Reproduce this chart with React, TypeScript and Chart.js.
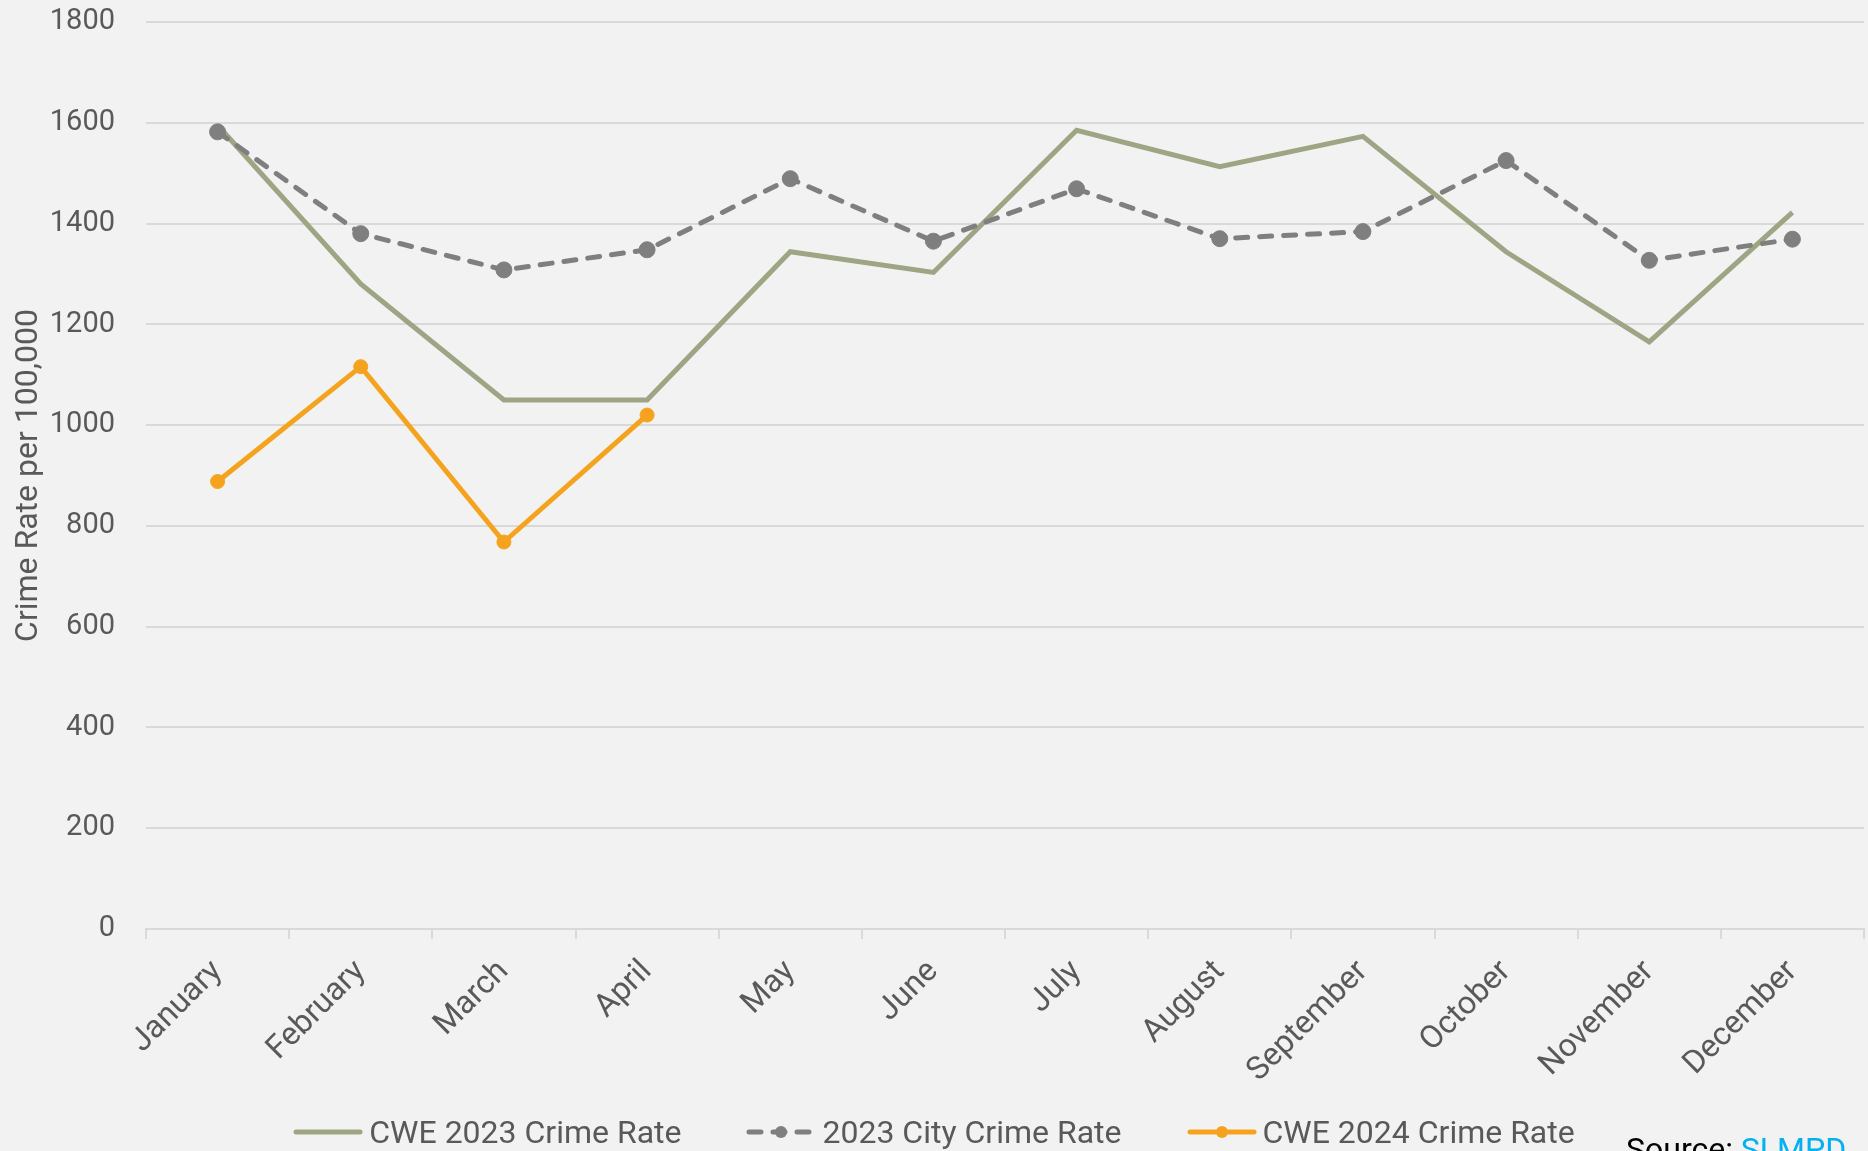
import React, { useEffect, useRef } from "react";
import { Chart, registerables } from "chart.js";

Chart.register(...registerables);

const months = [
  "January", "February", "March", "April", "May", "June",
  "July", "August", "September", "October", "November", "December",
];
const cwe2023 = [1595, 1280, 1050, 1050, 1344, 1303, 1585, 1513, 1573, 1344, 1165, 1422];
const city2023 = [1582, 1380, 1308, 1348, 1489, 1365, 1469, 1370, 1384, 1525, 1327, 1369];
const cwe2024 = [888, 1116, 768, 1020, null, null, null, null, null, null, null, null];
const seriesLabels = ["CWE 2023 Crime Rate", "2023 City Crime Rate", "CWE 2024 Crime Rate"];
const yMin = 0;
const yMax = 1800;
const yStep = 200;
const yTitle = "Crime Rate per 100,000";

const GREEN = "#9ea584";
const GRAY = "#7f7f7f";
const ORANGE = "#f5a31f";
const TEXT = "#595959";
const FONT = "Roboto";

function Swatch({ color, dashed, marker }: { color: string; dashed?: boolean; marker?: boolean }) {
  return (
    <svg width={70} height={16} style={{ display: "block" }}>
      <line
        x1={3}
        y1={8}
        x2={67}
        y2={8}
        stroke={color}
        strokeWidth={5}
        strokeLinecap="round"
        strokeDasharray={dashed ? "12 12" : undefined}
      />
      {marker ? <circle cx={35} cy={8} r={6} fill={color} /> : null}
    </svg>
  );
}

export default function App() {
  const canvasRef = useRef<HTMLCanvasElement | null>(null);

  useEffect(() => {
    document.body.style.margin = "0";
    document.body.style.background = "#f2f2f2";
    document.body.style.overflow = "hidden";
    const canvas = canvasRef.current;
    if (!canvas) return;
    const chart = new Chart(canvas, {
      type: "line",
      data: {
        labels: months,
        datasets: [
          {
            label: seriesLabels[0],
            data: cwe2023,
            borderColor: GREEN,
            backgroundColor: GREEN,
            borderWidth: 5,
            pointRadius: 0,
            tension: 0,
            order: 3,
          },
          {
            label: seriesLabels[1],
            data: city2023,
            borderColor: GRAY,
            backgroundColor: GRAY,
            borderWidth: 5,
            borderDash: [12, 12],
            borderCapStyle: "round",
            pointRadius: 8,
            pointBackgroundColor: GRAY,
            pointBorderColor: GRAY,
            pointBorderWidth: 1,
            tension: 0,
            order: 2,
          },
          {
            label: seriesLabels[2],
            data: cwe2024,
            borderColor: ORANGE,
            backgroundColor: ORANGE,
            borderWidth: 5,
            pointRadius: 7,
            pointBackgroundColor: ORANGE,
            pointBorderColor: ORANGE,
            pointBorderWidth: 1,
            tension: 0,
            spanGaps: false,
            order: 1,
          },
        ],
      },
      options: {
        animation: false,
        responsive: false,
        maintainAspectRatio: false,
        layout: { autoPadding: false, padding: { top: 22, right: 4, left: 0, bottom: 0 } },
        plugins: {
          legend: { display: false },
          tooltip: { enabled: false },
        },
        scales: {
          x: {
            offset: true,
            grid: {
              offset: true,
              drawOnChartArea: false,
              drawTicks: true,
              tickLength: 10,
              color: "#d9d9d9",
              lineWidth: 2,
            },
            border: { color: "#d9d9d9", width: 2 },
            ticks: {
              minRotation: 45,
              maxRotation: 45,
              padding: 14,
              color: TEXT,
              font: { family: FONT, size: 32 },
              autoSkip: false,
            },
            afterFit: (s: any) => {
              s.height = 222;
              s.paddingLeft = 0;
              s.paddingRight = 0;
            },
          },
          y: {
            min: yMin,
            max: yMax,
            ticks: {
              stepSize: yStep,
              padding: 31,
              color: TEXT,
              font: { family: FONT, size: 29 },
              callback: (v: any) => String(v),
            },
            grid: { color: "#d9d9d9", lineWidth: 2, drawTicks: false },
            border: { display: false },
            title: {
              display: true,
              text: yTitle,
              color: TEXT,
              font: { family: FONT, size: 32 },
              padding: { top: 10, bottom: 4 },
            },
            afterFit: (s: any) => {
              s.width = 146;
              s.paddingTop = 0;
              s.paddingBottom = 0;
            },
          },
        },
      },
    } as any);
    return () => chart.destroy();
  }, []);

  return (
    <div
      style={{
        position: "relative",
        width: 1868,
        height: 1151,
        background: "#f2f2f2",
        overflow: "hidden",
        fontFamily: FONT,
      }}
    >
      <canvas ref={canvasRef} width={1868} height={1151} style={{ display: "block" }} />
      <div
        style={{
          position: "absolute",
          left: 0,
          top: 1114,
          width: 1868,
          display: "flex",
          justifyContent: "center",
          alignItems: "center",
          gap: 65,
          color: TEXT,
          fontSize: 32,
          lineHeight: "36px",
        }}
      >
        <div style={{ display: "flex", alignItems: "center", gap: 6 }}>
          <Swatch color={GREEN} />
          <span>{seriesLabels[0]}</span>
        </div>
        <div style={{ display: "flex", alignItems: "center", gap: 6 }}>
          <Swatch color={GRAY} dashed marker />
          <span>{seriesLabels[1]}</span>
        </div>
        <div style={{ display: "flex", alignItems: "center", gap: 6 }}>
          <Swatch color={ORANGE} marker />
          <span>{seriesLabels[2]}</span>
        </div>
      </div>
      <div
        style={{
          position: "absolute",
          left: 1626,
          top: 1133,
          fontSize: 32,
          lineHeight: 1,
          whiteSpace: "nowrap",
          color: "#000",
        }}
      >
        Source: <span style={{ color: "#00b0f0" }}>SLMPD</span>
      </div>
    </div>
  );
}
